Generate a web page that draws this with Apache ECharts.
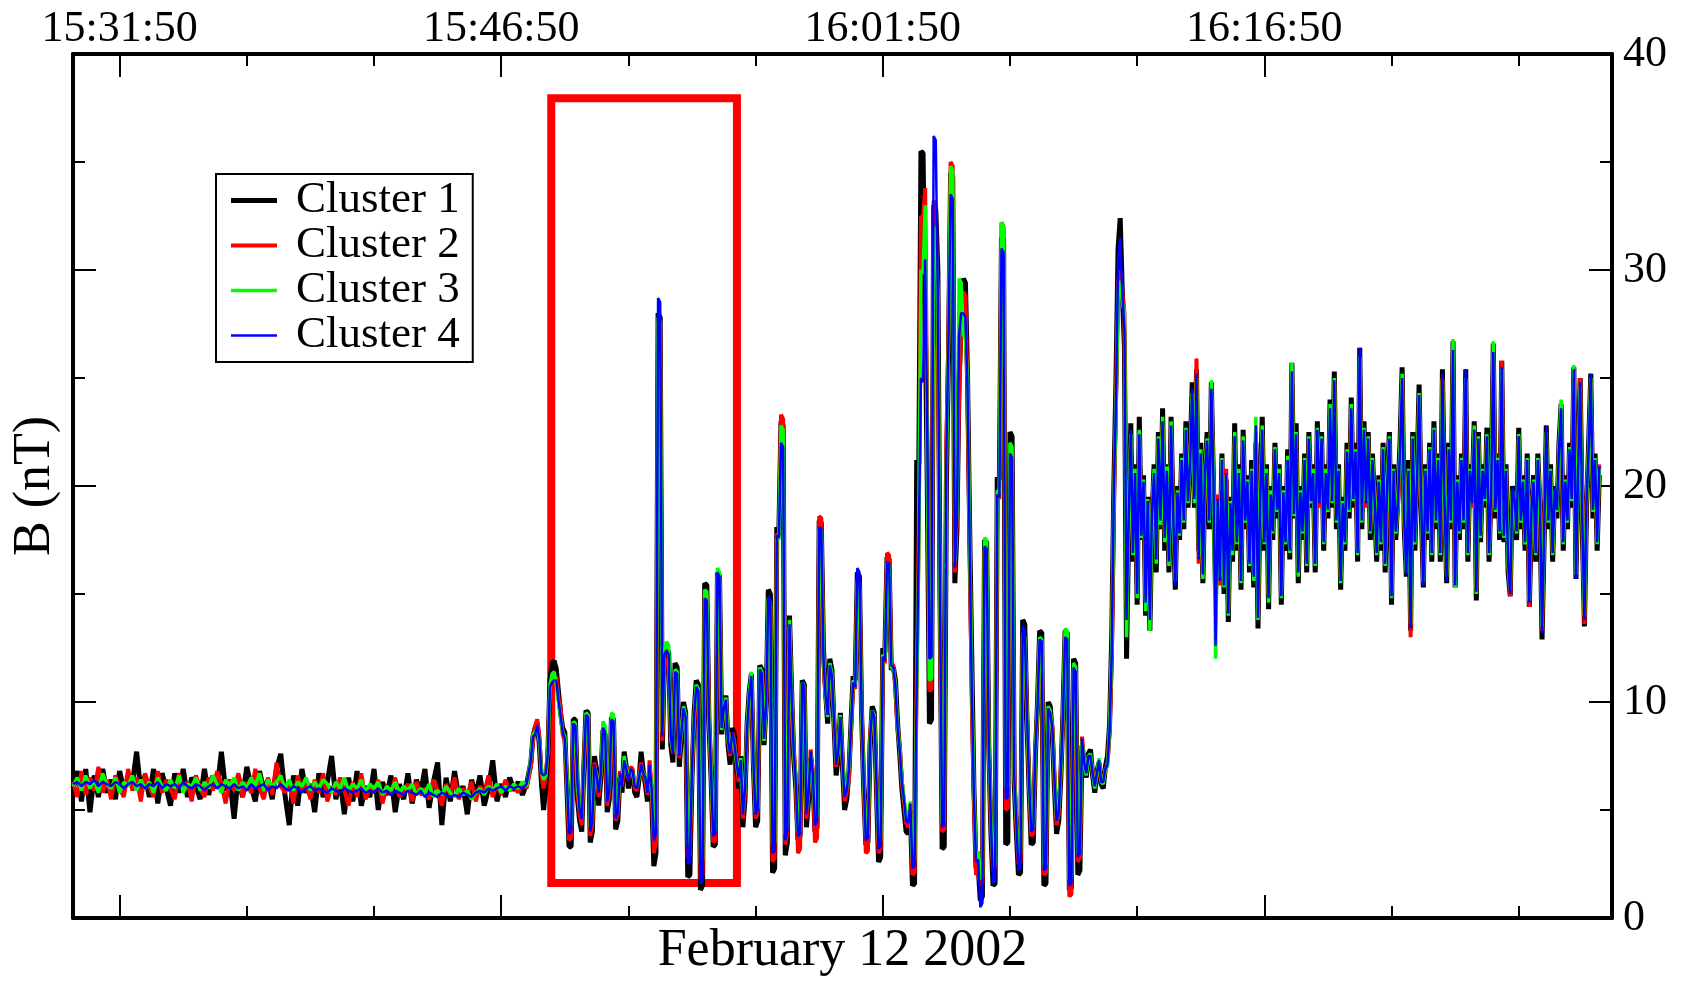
<!DOCTYPE html>
<html>
<head>
<meta charset="utf-8">
<script src="https://cdn.jsdelivr.net/npm/echarts@6/dist/echarts.min.js"></script>
<style>
html,body{margin:0;padding:0;background:#fff;}
#chart{width:1682px;height:982px;}
</style>
</head>
<body>
<div id="chart"></div>
<script>
// ---- time base (seconds after 15:30:00) ----
const T0 = 15 * 3600 + 30 * 60;
const STEP_QUIET = 10;          // quiet block: one sample every 10 s from 15:30:00
const ACTIVE_START = 1080;      // active block starts 15:48:00
const STEP_ACTIVE = 5;          // active block (burst + late): one sample every 5 s
const X_MAX = 3630;
const majorTicks = [110, 1010, 1910, 2810];            // 15:31:50, 15:46:50, 16:01:50, 16:16:50
const minorTicks = [410, 710, 1310, 1610, 2210, 2510, 3110, 3410];
const seriesNames = ['Cluster 1', 'Cluster 2', 'Cluster 3', 'Cluster 4'];

// highlighted interval (red box): [t start, t end], [B low, B high]
const boxTime = [1128, 1566];
const boxB = [1.62, 37.95];

// ---- |B| (nT), quiet block (10 s, 15:30:00 - 15:47:50) ----
const cluster1Quiet = [
6.0,6.8,5.4,6.9,4.9,6.6,5.6,6.9,5.8,6.4, 5.5,6.8,5.9,6.5,6.2,7.7,5.9,6.6,5.6,6.9,
5.3,6.7,6.0,5.2,6.7,5.8,6.9,5.6,6.5,6.1, 5.5,6.9,5.7,6.6,6.0,7.7,5.9,6.4,4.6,6.6,
5.6,7.0,6.1,5.4,6.8,5.9,6.4,5.5,6.9,7.6, 5.7,4.3,6.6,5.2,6.9,5.8,6.2,4.9,6.7,5.6,
6.3,7.5,5.5,6.4,4.8,6.5,5.4,6.8,5.2,6.1, 5.6,6.9,5.0,6.3,5.7,6.6,4.9,6.2,5.5,6.7,
5.3,6.4,5.8,6.9,5.1,6.3,7.2,4.3,6.5,5.4, 6.8,5.6,6.1,4.8,6.4,5.7,6.6,5.2,6.0,7.3,
5.4,6.2,5.6,6.5,5.9,6.3,5.7,6.2
];
const cluster2Quiet = [
6.3,5.6,6.8,5.7,6.5,5.9,7.0,5.8,6.4,5.5, 6.6,6.0,5.6,6.9,5.9,6.5,5.4,6.7,6.1,5.6,
6.8,5.8,6.4,6.0,5.5,6.7,5.9,6.3,5.4,6.6, 6.0,5.6,6.5,5.9,6.8,6.2,5.3,6.4,5.9,6.7,
5.6,6.3,5.8,6.9,6.0,5.5,6.5,5.7,7.2,6.1, 5.8,6.3,5.3,6.6,5.9,6.2,5.5,6.4,5.8,6.7,
5.4,6.1,5.7,6.5,5.9,5.2,6.3,5.6,6.7,5.5, 6.0,5.8,6.4,5.3,6.1,5.7,6.5,5.6,5.9,6.2,
5.4,6.3,5.7,6.0,5.5,6.4,5.9,5.2,6.2,5.7, 6.5,5.5,6.0,5.7,6.3,5.4,6.1,5.8,6.6,5.6,
6.2,5.7,6.4,5.9,6.1,5.8,6.3,6.0
];
const cluster3Quiet = [
6.1,6.5,5.9,6.6,6.0,6.4,5.8,6.7,6.2,6.0, 6.5,5.8,6.3,6.1,6.6,5.9,6.4,6.0,6.3,5.8,
6.5,6.1,5.9,6.4,6.0,6.6,5.8,6.2,6.1,6.5, 5.9,6.3,6.0,6.6,6.2,5.8,6.4,6.1,6.5,5.9,
6.3,6.0,6.5,6.1,6.7,5.9,6.4,6.1,6.3,6.6, 6.0,6.4,5.9,6.3,6.1,6.5,5.9,6.3,6.0,6.4,
6.2,5.8,6.3,6.0,6.5,5.9,6.2,6.0,6.4,5.8, 6.2,6.0,6.3,5.7,6.1,5.9,6.3,5.8,6.1,5.9,
6.2,5.7,6.0,5.8,6.2,5.6,5.9,5.7,6.1,5.8, 5.6,6.0,5.7,5.9,5.5,5.8,6.0,5.7,6.1,5.9,
6.2,5.8,6.1,5.9,6.2,6.0,6.3,6.1
];
const cluster4Quiet = [
6.2,6.3,6.1,6.3,6.2,6.4,6.1,6.3,6.2,6.1, 6.3,6.2,6.0,6.2,6.3,6.1,6.2,6.0,6.2,6.1,
6.3,6.0,6.2,6.1,6.2,6.0,6.3,6.1,6.0,6.2, 6.1,5.9,6.1,6.2,6.0,6.2,6.1,6.0,6.2,6.0,
6.1,5.9,6.2,6.0,6.1,6.2,5.9,6.1,6.0,6.2, 6.0,5.9,6.1,6.0,5.8,6.0,6.1,5.9,6.0,5.9,
5.8,6.0,5.9,5.8,6.0,5.9,5.8,5.9,6.0,5.8, 5.9,5.8,6.0,5.8,5.9,5.7,5.9,5.8,5.7,5.9,
5.8,5.7,5.9,5.6,5.8,5.7,5.6,5.8,5.7,5.6, 5.7,5.6,5.8,5.7,5.6,5.8,5.9,5.8,6.0,5.9,
6.0,6.1,5.9,6.1,6.0,6.1,6.0,6.2
];

// ---- |B| (nT), burst block (5 s, 15:48:00 - 16:10:45) ----
const cluster1Burst = [
7.2,8.4,8.8,9.0,8.0,6.2,5.0,6.0,7.5,11.0, 11.8,11.9,11.5,10.5,9.5,8.8,8.6,6.0,3.3,3.3,
9.2,9.2,5.5,4.5,4.0,7.0,9.6,9.5,3.5,4.0, 7.5,6.8,5.2,6.5,8.7,8.5,4.9,5.5,9.3,9.2,
4.1,4.5,6.5,5.8,7.7,7.0,6.0,6.8,6.6,5.8, 5.6,6.4,7.7,6.8,6.2,5.4,6.7,5.6,2.4,3.0,
28.0,27.8,7.8,12.0,12.5,12.3,8.0,7.2,11.8,11.6, 7.0,8.4,10.0,9.5,1.9,2.0,6.5,9.5,11.0,10.8,
1.3,1.5,15.5,15.4,9.0,6.5,3.3,3.4,16.0,15.8, 8.5,9.8,10.3,8.0,7.1,8.8,8.5,7.0,6.0,7.5,
4.2,5.5,9.0,10.5,11.3,7.0,4.2,4.5,11.7,11.5, 8.0,10.0,15.2,15.0,2.1,2.3,18.1,18.0,23.0,22.8,
2.9,3.5,14.0,10.5,7.4,6.0,3.6,3.8,11.0,10.8, 4.2,5.5,7.4,6.5,4.0,4.2,18.4,18.3,12.5,10.5,
9.0,12.0,11.5,9.0,6.6,7.5,9.5,7.0,5.0,5.5, 6.7,9.0,11.2,11.0,16.0,15.8,9.5,6.0,3.4,3.5,
8.0,9.8,9.5,6.0,2.6,2.8,12.5,12.3,16.7,16.6, 11.5,11.6,11.0,9.0,7.6,6.0,5.0,4.0,3.9,5.0,
1.5,1.6,21.2,21.0,35.5,35.4,28.0,20.0,9.0,9.2, 33.0,32.8,30.0,15.0,3.2,3.3,20.0,26.0,34.5,34.3,
15.5,18.0,25.0,27.5,29.6,29.4,25.0,18.0,12.0,6.0, 2.3,2.4,0.8,1.0,17.5,17.4,8.0,4.0,1.5,1.6,
20.4,20.3,31.5,31.4,3.4,3.5,22.5,22.3,6.2,4.0, 2.0,2.1,13.8,13.6,9.2,6.0,3.4,3.5,7.5,10.0,
13.3,13.2,1.5,1.6,10.0,9.8,8.5,6.0,3.9,4.5, 6.5,9.5,13.3,13.2,1.3,1.4,12.0,11.8,2.0,2.2,
8.0,7.0,6.5,7.6,7.8,6.6,5.8,6.8,7.2,6.2, 6.0,7.0,7.5,9.0
];
const cluster2Burst = [
7.0,8.2,8.9,9.2,8.4,6.6,6.0,6.5,7.8,10.6, 11.0,11.1,11.2,10.2,9.8,8.5,8.2,6.3,3.6,3.7,
8.9,8.9,5.8,4.8,4.3,7.2,9.2,9.1,3.8,4.3, 7.2,6.5,5.6,6.8,8.4,8.2,5.2,5.8,9.0,8.9,
4.5,4.8,6.8,6.1,7.2,6.8,6.4,7.0,6.9,6.0, 5.9,6.6,7.2,6.6,6.4,5.7,7.3,5.9,3.0,3.5,
27.6,27.4,8.2,11.6,12.0,11.9,8.5,7.6,11.3,11.1, 7.4,8.7,9.6,9.2,2.8,2.9,6.8,9.2,10.6,10.4,
1.8,2.0,15.0,14.9,9.4,6.8,3.5,3.6,15.8,15.6, 8.9,9.6,10.0,8.3,7.5,8.6,8.2,7.3,6.3,7.2,
4.6,5.8,8.7,10.2,11.0,7.3,4.6,4.9,11.4,11.2, 8.4,9.8,14.6,14.4,2.6,2.8,17.8,17.7,23.3,23.1,
3.4,4.0,13.5,10.2,7.8,6.3,3.0,3.2,10.8,10.6, 4.6,5.8,7.8,6.8,3.5,3.7,18.6,18.5,12.0,10.2,
9.5,11.6,11.0,9.3,7.0,7.8,9.2,7.3,5.4,5.8, 6.4,8.7,10.8,10.6,15.7,15.5,9.8,6.3,3.0,3.1,
8.4,9.5,9.2,6.3,3.0,3.2,12.0,11.8,16.9,16.8, 11.8,11.7,10.5,8.7,8.0,6.3,5.4,4.4,4.2,5.3,
2.0,2.1,11.0,18.0,32.5,32.4,33.8,22.0,10.5,10.6, 33.2,33.0,27.0,14.0,4.0,4.1,22.0,27.0,35.0,34.8,
16.0,18.5,24.0,27.0,29.0,28.8,24.0,17.0,10.0,5.5, 2.0,2.1,1.5,1.6,17.0,16.9,7.5,4.4,2.2,2.3,
19.5,19.4,32.2,32.0,5.0,5.1,21.0,20.8,6.8,4.4, 2.5,2.6,13.0,12.8,9.6,6.3,3.8,3.9,7.9,9.7,
12.8,12.7,2.0,2.1,9.6,9.4,8.9,6.4,4.3,4.8, 6.9,9.2,12.8,12.7,1.0,1.1,11.5,11.3,2.6,2.8,
8.4,7.3,6.8,7.4,7.4,6.8,6.2,6.6,7.0,6.4, 6.4,6.8,7.2,8.6
];
const cluster3Burst = [
7.4,8.5,8.6,8.8,8.2,6.8,6.4,6.6,7.7,10.8, 11.3,11.4,10.8,10.0,9.3,8.6,8.4,6.5,4.2,4.3,
9.1,9.0,6.0,5.1,4.8,7.1,9.5,9.4,4.2,4.6, 7.0,6.6,5.9,6.7,9.1,8.9,5.5,6.0,9.5,9.4,
4.8,5.0,6.6,6.2,7.5,6.9,6.5,6.9,6.7,6.2, 6.1,6.5,7.0,6.7,6.6,5.9,7.0,6.0,4.0,4.2,
27.8,27.6,8.6,12.3,12.8,12.6,8.3,7.7,11.5,11.4, 7.6,8.6,9.8,9.4,3.4,3.5,7.0,9.3,10.8,10.6,
2.5,2.7,15.2,15.1,9.1,6.9,4.0,4.1,16.2,16.0, 8.7,9.7,10.2,8.2,7.7,8.5,8.0,7.2,6.6,7.4,
5.0,6.0,8.9,10.4,11.4,7.2,4.9,5.1,11.6,11.4, 8.2,9.9,14.8,14.6,3.4,3.5,17.6,17.5,22.8,22.6,
3.9,4.3,13.8,10.4,7.6,6.4,4.0,4.1,10.9,10.7, 5.0,5.9,7.6,6.7,4.6,4.7,18.0,17.9,12.2,10.3,
9.3,11.8,11.3,9.2,7.2,7.7,9.4,7.2,5.7,6.0, 6.9,8.9,11.0,10.8,15.5,15.3,9.6,6.4,3.8,3.9,
8.2,9.6,9.4,6.4,3.5,3.6,12.2,12.0,16.4,16.3, 11.6,11.5,10.8,8.8,7.9,6.4,5.6,4.6,4.5,5.4,
2.6,2.7,10.5,17.0,30.0,29.8,33.0,21.0,11.0,11.1, 32.0,31.8,29.0,14.5,4.4,4.5,21.0,26.5,34.8,34.6,
16.5,18.8,29.6,29.4,27.0,26.8,25.0,17.5,11.0,5.8, 3.0,3.1,1.8,1.9,17.6,17.5,8.4,4.6,2.4,2.5,
19.8,19.7,32.2,32.0,6.0,6.1,22.0,21.8,6.5,4.6, 2.9,3.0,13.2,13.0,9.4,6.4,4.1,4.2,7.7,9.9,
13.0,12.9,2.4,2.5,9.8,9.6,8.7,6.5,4.6,5.0, 6.7,9.4,13.4,13.3,1.8,1.9,11.8,11.6,3.0,3.2,
8.2,7.2,6.6,7.5,7.6,6.7,6.0,6.7,7.4,6.3, 6.2,6.9,7.0,8.8
];
const cluster4Burst = [
7.3,8.4,8.5,8.9,8.3,6.7,6.6,6.7,7.6,10.7, 10.9,11.0,11.0,10.1,9.4,8.6,8.3,6.4,3.9,4.0,
9.0,8.9,6.2,5.0,4.6,7.1,9.4,9.3,4.0,4.5, 7.1,6.6,5.8,6.7,8.8,8.6,5.4,5.9,9.2,9.1,
4.6,4.9,6.7,6.1,7.3,6.9,6.3,6.9,6.8,6.1, 6.0,6.5,7.1,6.7,6.5,5.8,7.1,5.9,3.6,3.9,
28.7,28.5,8.4,12.2,12.4,12.2,8.4,7.6,11.4,11.3, 7.5,8.6,9.7,9.3,2.5,2.6,6.9,9.3,10.7,10.5,
1.6,1.8,14.8,14.7,9.3,6.8,3.8,3.9,16.0,15.8, 8.8,9.7,10.1,8.2,7.6,8.6,8.1,7.2,6.5,7.3,
4.8,5.9,8.8,10.3,11.2,7.2,4.8,5.0,11.5,11.3, 8.3,9.8,14.9,14.7,3.0,3.1,17.7,17.6,22.0,21.8,
3.6,4.1,13.6,10.3,7.7,6.3,3.8,3.9,10.9,10.7, 4.8,5.8,7.7,6.7,4.3,4.4,18.1,18.0,12.1,10.3,
9.4,11.7,11.2,9.2,7.1,7.7,9.3,7.2,5.6,5.9, 6.8,8.8,10.9,10.7,16.2,16.0,9.7,6.4,3.6,3.7,
8.3,9.6,9.3,6.4,3.2,3.3,12.1,11.9,16.5,16.4, 11.7,11.6,10.7,8.8,7.8,6.3,5.5,4.5,4.4,5.3,
2.3,2.4,10.8,17.5,25.0,24.8,30.5,22.5,12.0,12.1, 36.2,36.0,28.5,14.8,4.2,4.3,21.5,26.8,33.5,33.3,
16.2,18.5,27.0,28.0,28.0,27.8,24.5,17.3,10.5,5.6, 2.6,2.7,0.5,0.7,17.2,17.1,8.2,4.5,1.6,1.7,
19.6,19.5,31.0,30.8,5.5,5.6,21.5,21.3,6.6,4.5, 2.2,2.3,13.5,13.3,9.5,6.4,4.0,4.1,7.8,9.8,
12.9,12.8,2.2,2.3,9.7,9.5,8.8,6.4,4.5,4.9, 6.8,9.3,13.0,12.9,1.5,1.6,11.6,11.4,2.8,3.0,
8.3,7.2,6.7,7.5,7.5,6.7,6.1,6.7,7.3,6.3, 6.3,6.9,7.1,8.7
];

// ---- |B| (nT), late block (5 s, 16:10:50 - 16:30:00) ----
const cluster1Late = [
13.0,20.0,24.9,31.0,32.4,29.0,26.4,12.0,18.0,22.9, 16.5,21.0,14.5,23.2,17.5,20.5,14.0,19.5,13.3,18.5,
21.0,16.0,22.5,18.0,23.6,17.0,21.0,16.0,23.2,18.5, 15.2,20.0,17.5,21.5,18.0,23.0,19.0,21.5,24.8,19.0,
25.4,17.0,22.0,15.5,20.5,22.5,18.0,24.8,20.0,15.0, 19.0,16.0,21.5,15.0,20.3,13.7,19.5,16.5,22.9,17.0,
21.0,15.2,22.6,18.0,20.5,16.0,21.2,15.3,22.0,13.4, 19.5,23.2,17.0,21.0,14.3,20.0,17.5,22.0,18.5,21.0,
14.5,20.0,17.0,21.7,16.6,25.7,18.5,22.9,15.5,20.0, 17.5,21.5,16.0,22.5,19.0,21.0,16.0,23.0,19.5,22.5,
17.0,21.0,18.5,24.0,19.0,25.3,18.0,21.0,15.2,19.5, 17.0,22.0,18.5,24.1,19.0,22.0,16.5,26.4,18.0,23.0,
19.5,22.5,17.5,21.5,19.0,16.5,20.5,17.0,22.0,16.0, 20.5,22.5,14.5,21.0,17.5,19.5,22.0,25.5,18.0,15.8,
21.2,13.3,22.5,17.0,20.5,24.7,19.0,15.3,21.0,17.5, 22.0,16.5,23.0,18.0,21.5,16.5,25.4,19.5,15.5,22.0,
18.0,26.7,15.3,20.5,17.5,21.5,18.0,25.4,16.5,21.0, 19.5,23.0,14.7,22.5,17.4,21.0,19.0,22.7,16.5,20.0,
26.6,18.5,21.5,17.5,25.8,17.4,21.0,16.0,14.9,20.0, 19.0,17.5,22.7,18.0,20.5,17.0,21.5,14.4,18.5,20.5,
16.5,21.5,19.0,12.9,17.5,22.8,18.0,21.0,16.5,20.0, 18.5,22.0,23.8,17.0,20.5,18.0,22.0,19.0,25.5,15.7,
21.0,25.0,18.0,13.5,19.0,22.0,25.2,18.5,21.5,17.0, 20.5
];
const cluster2Late = [
12.0,19.0,24.0,29.5,30.0,29.0,28.0,14.5,18.5,22.0, 17.2,20.5,15.2,22.5,18.0,20.0,14.8,19.2,14.2,19.0,
20.4,16.8,22.0,18.6,22.8,17.8,20.6,16.8,22.6,18.8, 15.9,19.6,18.0,21.0,18.6,22.4,19.4,21.0,24.0,19.6,
25.9,16.4,21.4,16.2,20.8,22.0,18.6,24.0,20.4,15.6, 19.6,15.4,21.0,15.6,20.8,14.3,19.0,17.2,22.0,17.6,
20.4,15.8,22.0,18.6,20.0,16.6,20.5,16.0,22.5,14.0, 19.0,22.4,17.6,20.5,15.0,19.5,18.0,21.5,19.0,20.5,
15.2,19.6,17.6,21.0,17.2,25.0,18.8,22.2,16.2,19.5, 18.1,21.0,16.6,22.0,19.4,20.5,16.6,22.4,19.0,22.0,
17.6,20.5,19.0,23.5,19.4,24.8,18.6,20.5,15.8,19.0, 17.6,21.4,19.0,23.5,19.6,21.4,17.0,25.8,18.6,22.4,
19.0,22.0,18.0,21.0,19.5,17.2,20.0,17.6,21.5,16.6, 20.0,22.0,15.2,20.5,18.0,19.0,21.4,24.9,18.5,16.3,
20.6,13.0,22.0,17.6,20.0,24.0,19.5,15.5,20.5,18.0, 21.5,17.0,22.4,18.5,21.0,17.0,25.0,19.0,16.0,21.5,
18.5,26.0,15.5,20.0,18.0,21.0,18.5,24.8,17.0,20.5, 19.0,22.5,15.2,22.0,17.9,20.5,19.5,22.1,17.0,19.5,
26.0,19.0,21.0,18.0,25.8,17.9,20.5,16.5,14.9,19.5, 19.5,18.0,22.1,18.5,20.0,17.5,21.0,14.4,19.0,20.0,
17.0,21.0,19.5,13.3,18.0,22.2,18.5,20.5,17.0,19.5, 19.0,21.5,23.2,17.5,20.0,18.5,21.5,19.5,25.0,16.2,
20.5,25.0,18.5,13.6,19.5,21.5,24.8,19.0,21.0,17.5, 21.0
];
const cluster3Late = [
12.5,19.5,23.5,29.0,29.5,28.5,28.0,13.0,18.3,22.4, 16.8,20.8,14.8,22.6,17.6,20.3,14.2,19.4,13.3,18.8,
20.8,16.4,22.3,18.2,23.2,17.4,20.9,16.3,23.0,18.6, 15.6,19.8,17.7,21.3,18.3,22.7,19.2,21.2,24.3,19.2,
25.0,16.7,21.7,15.7,20.6,22.2,18.3,24.9,20.2,12.0, 19.3,15.8,21.3,15.3,20.5,14.0,19.3,16.8,22.5,17.3,
20.8,15.5,22.3,18.3,20.3,16.3,20.8,15.6,23.2,13.8, 19.3,22.8,17.3,20.8,14.6,19.8,17.8,21.8,18.8,20.8,
14.8,19.8,17.3,21.4,16.9,25.7,18.6,22.5,15.8,19.8, 17.8,21.3,16.3,22.3,19.2,20.8,16.3,22.7,19.3,22.3,
17.3,20.8,18.8,23.8,19.2,25.0,18.3,20.8,15.5,19.3, 17.3,21.7,18.8,23.8,19.3,21.7,16.8,26.0,18.3,22.7,
19.3,22.3,17.8,21.3,19.3,16.8,20.3,17.3,21.8,16.3, 20.3,22.3,14.8,20.8,17.8,19.3,21.7,25.2,18.3,16.0,
20.8,13.6,22.3,17.3,20.3,24.3,19.3,15.6,20.8,17.8, 21.8,16.8,22.7,18.3,21.3,16.8,24.9,19.3,15.8,21.8,
18.3,26.8,15.3,20.3,17.8,21.3,18.3,25.0,16.8,20.8, 19.3,22.8,15.0,22.3,17.6,20.8,19.3,22.4,16.8,19.8,
26.7,18.8,21.3,17.8,25.4,17.6,20.8,16.3,15.2,19.8, 19.3,17.8,22.4,18.3,20.3,17.3,21.3,14.7,18.8,20.3,
16.8,21.3,19.3,13.5,17.8,22.5,18.3,20.8,16.8,19.8, 18.8,21.8,24.0,17.3,20.3,18.3,21.8,19.3,25.6,15.9,
20.8,24.6,18.3,14.0,19.3,21.8,25.0,18.8,21.3,17.3, 20.8
];
const cluster4Late = [
12.2,19.8,23.8,30.5,31.5,29.0,27.2,13.8,18.4,22.6, 16.9,20.6,15.0,22.4,17.7,20.2,14.6,19.3,13.8,18.9,
20.6,16.6,22.2,18.4,23.0,17.6,20.7,16.5,22.8,18.7, 15.4,19.7,17.8,21.2,18.4,22.6,19.3,21.1,24.5,19.4,
25.2,16.6,21.5,15.9,20.7,22.1,18.4,24.5,20.3,12.6, 19.4,15.6,21.2,15.4,20.6,14.1,19.2,17.0,22.3,17.4,
20.6,15.6,22.1,18.4,20.2,16.4,20.7,15.8,22.8,13.9, 19.2,22.6,17.4,20.6,14.8,19.6,17.9,21.7,18.9,20.6,
14.9,19.7,17.4,21.2,17.0,25.3,18.7,22.4,16.0,19.7, 17.9,21.2,16.4,22.2,19.3,20.6,16.4,22.6,19.2,22.2,
17.4,20.6,18.9,23.6,19.3,24.9,18.4,20.7,15.6,19.2, 17.4,21.6,18.9,23.6,19.4,21.6,16.9,26.4,18.4,22.6,
19.2,22.2,17.9,21.2,19.4,16.9,20.2,17.4,21.7,16.4, 20.2,22.2,14.9,20.7,17.9,19.2,21.6,25.0,18.4,15.9,
20.7,13.4,22.2,17.4,20.2,24.2,19.2,15.4,20.7,17.9, 21.7,16.9,22.6,18.4,21.2,16.9,25.2,19.2,15.6,21.7,
18.4,26.3,15.4,20.2,17.9,21.2,18.4,25.4,16.9,20.7, 19.2,22.6,15.1,22.2,17.7,20.7,19.4,22.3,16.9,19.7,
26.2,18.9,21.2,17.9,25.5,17.7,20.7,16.4,15.0,19.9, 19.4,17.9,22.3,18.4,20.2,17.4,21.2,14.6,18.9,20.2,
16.9,21.2,19.4,13.2,17.9,22.8,18.4,20.7,16.9,19.9, 18.9,21.7,23.6,17.4,20.2,18.4,21.7,19.4,25.4,15.7,
20.7,24.8,18.4,13.8,19.4,21.7,25.2,18.9,21.2,17.4, 20.9
];

// ---------------------------------------------------------------
const FONT = 'Liberation Serif';
function pad(n){ return (n < 10 ? '0' : '') + n; }
function hms(t){
  const s = T0 + Math.round(t);
  const h = Math.floor(s / 3600), m = Math.floor((s % 3600) / 60), sec = s % 60;
  return h + ':' + pad(m) + ':' + pad(sec);
}
function toXY(quiet, burst, late){
  const active = burst.concat(late);
  return quiet.map((v, i) => [i * STEP_QUIET, v])
    .concat(active.map((v, j) => [ACTIVE_START + j * STEP_ACTIVE, v]));
}

const tickLine = { color: '#000', width: 2 };
function xAxisDef(pos, ticks, len, showLine, showLabel, extra){
  return Object.assign({
    type: 'value', position: pos, min: 0, max: X_MAX,
    axisLine: { show: showLine, onZero: false, lineStyle: { color: '#000', width: 4 } },
    axisTick: { show: true, inside: true, length: len, customValues: ticks, lineStyle: tickLine },
    axisLabel: showLabel ? { show: true, customValues: ticks, formatter: hms, fontFamily: FONT, fontSize: 44, color: '#000', margin: 3 } : { show: false },
    splitLine: { show: false }
  }, extra || {});
}
function yAxisDef(pos, showLabel, extra){
  return Object.assign({
    type: 'value', position: pos, min: 0, max: 40, interval: 10,
    axisLine: { show: true, onZero: false, lineStyle: { color: '#000', width: 4 } },
    axisTick: { show: true, inside: true, length: 23, lineStyle: tickLine },
    minorTick: { show: true, splitNumber: 2, length: 12, lineStyle: tickLine },
    axisLabel: showLabel ? { show: true, fontFamily: FONT, fontSize: 44, color: '#000', margin: 11 } : { show: false },
    splitLine: { show: false }, minorSplitLine: { show: false }
  }, extra || {});
}

const colors = ['#000000', '#ff0000', '#00ff00', '#0000ff'];
const widths = [5, 4, 3.5, 2.5];
const quietSets = [cluster1Quiet, cluster2Quiet, cluster3Quiet, cluster4Quiet];
const burstSets = [cluster1Burst, cluster2Burst, cluster3Burst, cluster4Burst];
const lateSets = [cluster1Late, cluster2Late, cluster3Late, cluster4Late];

const series = [
  { type: 'line', name: '_box', xAxisIndex: 0, yAxisIndex: 1, data: [], silent: true, z: 1,
    markArea: { silent: true,
      itemStyle: { color: 'rgba(0,0,0,0)', borderColor: '#ff0000', borderWidth: 8 },
      data: [[ { coord: [boxTime[0], boxB[1]] }, { coord: [boxTime[1], boxB[0]] } ]] } },
  { type: 'line', name: '_a', xAxisIndex: 1, yAxisIndex: 0, data: [], silent: true },
  { type: 'line', name: '_b', xAxisIndex: 2, yAxisIndex: 0, data: [], silent: true },
  { type: 'line', name: '_c', xAxisIndex: 3, yAxisIndex: 0, data: [], silent: true }
];
quietSets.forEach((arr, k) => {
  series.push({
    type: 'line', name: seriesNames[k], xAxisIndex: 0, yAxisIndex: 1,
    data: toXY(arr, burstSets[k], lateSets[k]), symbol: 'none', showSymbol: false, z: 2 + k,
    lineStyle: { color: colors[k], width: widths[k] },
    itemStyle: { color: colors[k] },
    animation: false, silent: true
  });
});

const legendData = seriesNames.map((n, k) => ({
  name: n,
  icon: 'path://M0,0H46V' + widths[k] + 'H0Z',
  itemStyle: { color: colors[k] }
}));

const chart = echarts.init(document.getElementById('chart'), null, { renderer: 'canvas' });
chart.setOption({
  backgroundColor: '#ffffff',
  animation: false,
  grid: { left: 73, right: 70, top: 54, bottom: 63, containLabel: false },
  legend: {
    data: legendData, orient: 'vertical', left: 216, top: 174,
    itemWidth: 46, itemHeight: 14, itemGap: 0, symbolKeepAspect: true,
    padding: [4, 13, 4, 15],
    borderColor: '#000', borderWidth: 2, backgroundColor: '#fff',
    textStyle: { fontFamily: FONT, fontSize: 45, color: '#000', lineHeight: 43.6, padding: [0, 0, 0, 14] },
    selectedMode: false
  },
  xAxis: [
    xAxisDef('top', majorTicks, 23, true, true),
    xAxisDef('top', minorTicks, 12, false, false),
    xAxisDef('bottom', majorTicks, 23, true, false, {
      name: 'February 12 2002', nameLocation: 'middle', nameGap: 7,
      nameTextStyle: { fontFamily: FONT, fontSize: 52, color: '#000', verticalAlign: 'top' } }),
    xAxisDef('bottom', minorTicks, 12, false, false)
  ],
  yAxis: [
    yAxisDef('left', false, {
      name: 'B (nT)', nameLocation: 'middle', nameRotate: 90, nameGap: 12,
      nameTextStyle: { fontFamily: FONT, fontSize: 52, color: '#000' } }),
    yAxisDef('right', true)
  ],
  series: series
});
</script>
</body>
</html>
